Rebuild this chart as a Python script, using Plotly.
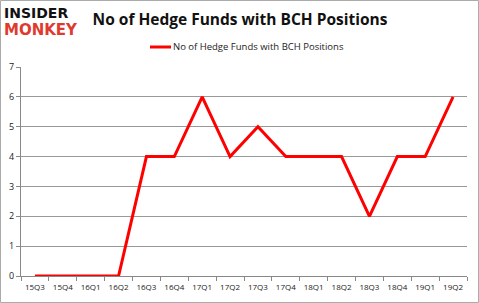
import plotly.graph_objects as go

quarters = ["15Q3", "15Q4", "16Q1", "16Q2", "16Q3", "16Q4", "17Q1", "17Q2",
            "17Q3", "17Q4", "18Q1", "18Q2", "18Q3", "18Q4", "19Q1", "19Q2"]
funds = [0, 0, 0, 0, 4, 4, 6, 4, 5, 4, 4, 4, 2, 4, 4, 6]
y_ticks = [0, 1, 2, 3, 4, 5, 6, 7]
series_name = "No of Hedge Funds with BCH Positions"

W, H = 479, 303
L, R, T, B = 21, 12, 67, 27

fig = go.Figure()
fig.add_trace(go.Scatter(x=quarters, y=funds, mode="lines", name=series_name,
                         line=dict(color="#ff0000", width=3), showlegend=False))

pw = W - L - R
ph = H - T - B

def px(x):
    return (x - L) / pw

def py(y):
    return (H - B - y) / ph

fig.update_layout(
    width=W, height=H,
    margin=dict(l=L, r=R, t=T, b=B, pad=0),
    paper_bgcolor="white", plot_bgcolor="white",
    showlegend=False,
    title=dict(text="<b>No of Hedge Funds with BCH Positions</b>",
               x=px(240), xref="paper", xanchor="center",
               y=1 - 20 / H, yanchor="middle",
               font=dict(family="Open Sans, sans-serif", size=15.5, color="#111")),
    xaxis=dict(type="category", range=[-0.5, len(quarters) - 0.5],
               tickson="boundaries", ticks="outside", ticklen=4, tickcolor="#888",
               tickangle=0, ticklabelstandoff=3, automargin=False,
               showline=True, linecolor="#888", linewidth=1, showgrid=False,
               tickfont=dict(family="Open Sans, sans-serif", size=8, color="#222")),
    yaxis=dict(range=[0, 7], tickvals=y_ticks, ticks="outside", ticklen=4,
               automargin=False,
               tickcolor="#888", showline=True, linecolor="#888", linewidth=1,
               showgrid=True, gridcolor="#999", gridwidth=1, zeroline=False,
               tickfont=dict(family="Open Sans, sans-serif", size=9, color="#222")),
    shapes=[dict(type="rect", xref="paper", yref="paper",
                 x0=px(0.5), x1=px(W - 0.5), y0=py(H - 0.5), y1=py(0.5),
                 line=dict(color="#aaa", width=1), layer="below"),
            dict(type="line", xref="paper", yref="paper",
                 x0=px(150), x1=px(171), y0=py(47), y1=py(47),
                 line=dict(color="#ff0000", width=3))],
    annotations=[
        dict(text=series_name, x=px(171), y=py(47), xref="paper", yref="paper",
             xanchor="left", yanchor="middle", showarrow=False,
             font=dict(family="Open Sans, sans-serif", size=9.5, color="#222")),
        dict(text="<b>INSIDER</b>", x=px(2), y=py(13), xref="paper", yref="paper",
             xanchor="left", yanchor="middle", showarrow=False,
             font=dict(family="DejaVu Sans, sans-serif", size=14, color="#111")),
        dict(text="<b>MONKEY</b>", x=px(2), y=py(30), xref="paper", yref="paper",
             xanchor="left", yanchor="middle", showarrow=False,
             font=dict(family="DejaVu Sans, sans-serif", size=15, color="#e03a2f")),
    ],
)

fig.write_html("out.html")
